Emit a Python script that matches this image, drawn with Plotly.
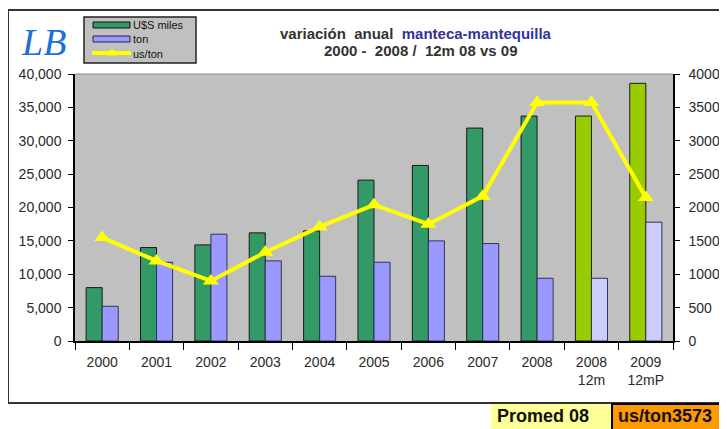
import plotly.graph_objects as go

# --- data
categories = ["2000", "2001", "2002", "2003", "2004", "2005", "2006", "2007", "2008",
              "2008<br>12m", "2009<br>12mP"]
usd_miles = [8000, 14000, 14400, 16200, 16500, 24100, 26300, 31900, 33700, 33700, 38600]
ton = [5200, 11800, 16000, 12000, 9700, 11800, 15000, 14600, 9400, 9400, 17800]
us_ton = [1550, 1200, 900, 1330, 1710, 2040, 1750, 2170, 3573, 3573, 2150]

green = ["#339966"] * 9 + ["#99CC00"] * 2
blue = ["#9999FF"] * 9 + ["#CCCCFF"] * 2

# the page puts the figure 8px in from the top-left corner
OFF = 8
W, H = 727 - OFF, 429 - OFF
L, R, T, B = 75 - OFF, 673 - OFF, 74 - OFF, 341 - OFF  # plot area in figure pixels


def px(x):
    # x given in screen pixels
    return (x - OFF - L) / (R - L)


def py(y):
    return (B - (y - OFF)) / (B - T)


fig = go.Figure()
fig.add_trace(go.Bar(x=categories, y=usd_miles, name="U$S miles",
                     marker=dict(color=green, line=dict(color="#1a1a1a", width=1))))
fig.add_trace(go.Bar(x=categories, y=ton, name="ton",
                     marker=dict(color=blue, line=dict(color="#333355", width=1))))
fig.add_trace(go.Scatter(x=categories, y=us_ton, name="us/ton", yaxis="y2",
                         mode="lines+markers",
                         line=dict(color="#FFFF00", width=4),
                         marker=dict(symbol="triangle-up", size=14, color="#FFFF00")))


def label(text, x, y, size=11, anchor="left", color="#111111", family="Liberation Sans"):
    return dict(text=text, xref="paper", yref="paper", x=px(x), y=py(y),
                xanchor=anchor, yanchor="middle", showarrow=False,
                font=dict(family=family, size=size, color=color))


shapes = [
    # outer frame
    dict(type="rect", xref="paper", yref="paper", x0=px(8), x1=px(740), y0=py(403), y1=py(10),
         line=dict(color="#333333", width=2), fillcolor="rgba(0,0,0,0)", layer="below"),
    # top border of plot area
    dict(type="line", xref="paper", yref="paper", x0=0, x1=1, y0=1, y1=1,
         line=dict(color="#888888", width=1)),
    # legend box
    dict(type="rect", xref="paper", yref="paper", x0=px(84), x1=px(196), y0=py(63), y1=py(17),
         line=dict(color="#222222", width=1.5), fillcolor="#C0C0C0"),
    dict(type="rect", xref="paper", yref="paper", x0=px(93), x1=px(130), y0=py(28), y1=py(22),
         line=dict(color="#111111", width=1), fillcolor="#339966"),
    dict(type="rect", xref="paper", yref="paper", x0=px(93), x1=px(130), y0=py(42), y1=py(36),
         line=dict(color="#222244", width=1), fillcolor="#9999FF"),
    dict(type="line", xref="paper", yref="paper", x0=px(92), x1=px(131), y0=py(53), y1=py(53),
         line=dict(color="#FFFF00", width=4)),
    dict(type="path", xref="paper", yref="paper",
         path=f"M {px(107)},{py(55)} L {px(117)},{py(55)} L {px(112)},{py(49)} Z",
         line=dict(color="#FFFF00", width=1), fillcolor="#FFFF00"),
    # bottom boxes
    dict(type="rect", xref="paper", yref="paper", x0=px(491), x1=px(611), y0=py(435), y1=py(404),
         line=dict(width=0), fillcolor="#FFFF99"),
    dict(type="rect", xref="paper", yref="paper", x0=px(612), x1=px(740), y0=py(435), y1=py(404),
         line=dict(color="#000000", width=2), fillcolor="#FF9900"),
]

annotations = [
    label("<i>LB</i>", 43, 42, size=38, anchor="center", color="#1F6FD8",
          family="Liberation Serif"),
    label("U$S miles", 131, 25),
    label("ton", 131, 39),
    label("us/ton", 131, 54),
    label("<b>variación&nbsp;&nbsp;anual&nbsp;&nbsp;"
          "<span style='color:#333399'>manteca-mantequilla</span></b>",
          416, 33, size=15, anchor="center", color="#333333"),
    label("<b>2000 -&nbsp;&nbsp;2008 /&nbsp;&nbsp;12m 08 vs 09</b>", 421, 50, size=15,
          anchor="center", color="#333333"),
    label("<b>Promed 08</b>", 543, 416, size=18, anchor="center"),
    label("<b>us/ton3573</b>", 616, 416, size=18),
]

axis_style = dict(showline=True, linecolor="black", linewidth=1.5, tickcolor="black",
                  showgrid=False, zeroline=False, automargin=False,
                  tickfont=dict(size=14, color="#2a2a2a"))

fig.update_layout(
    width=W, height=H,
    margin=dict(l=L, r=W - R, t=T, b=H - B, pad=0, autoexpand=False),
    paper_bgcolor="white",
    plot_bgcolor="#C0C0C0",
    barmode="group",
    bargap=0.41,
    bargroupgap=0,
    showlegend=False,
    font=dict(family="Liberation Sans", size=14, color="#222222"),
    xaxis=dict(type="category", range=[-0.5, len(categories) - 0.5], ticks="outside",
               tickson="boundaries", ticklen=7, ticklabelstandoff=7, **axis_style),
    yaxis=dict(range=[0, 40000], dtick=5000, tickformat=",d", ticks="outside", ticklen=5,
               ticklabelstandoff=4, **axis_style),
    yaxis2=dict(range=[0, 4000], dtick=500, tickformat="d", overlaying="y", side="right",
                ticks="outside", ticklen=5, ticklabelstandoff=6, **axis_style),
    # inner halves of the crossing ticks
    yaxis3=dict(range=[0, 40000], dtick=5000, overlaying="y", side="left", ticks="inside",
                ticklen=5, showticklabels=False, **axis_style),
    yaxis4=dict(range=[0, 4000], dtick=500, overlaying="y", side="right", ticks="inside",
                ticklen=5, showticklabels=False, **axis_style),
    shapes=shapes,
    annotations=annotations,
)

fig.write_html("out.html")
